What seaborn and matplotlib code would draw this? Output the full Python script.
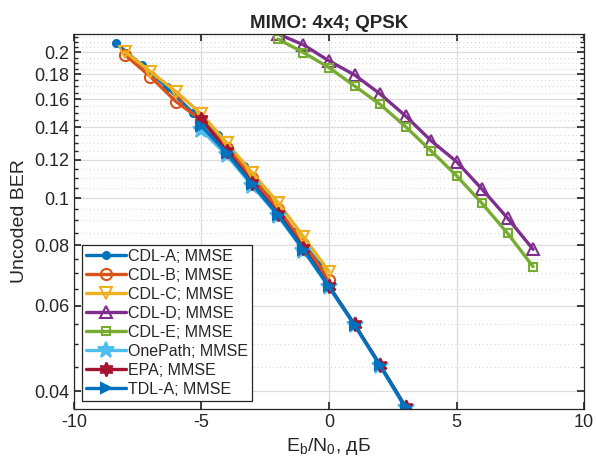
"""
Uncoded BER vs Eb/N0 for a 4x4 QPSK MIMO link, several channel models.
"""
import matplotlib
matplotlib.use('Agg')
import matplotlib.pyplot as plt
from matplotlib.ticker import MultipleLocator, FuncFormatter, NullFormatter
import seaborn as sns
import pandas as pd

# Eb/N0 grids, dB
ebn0_a = [-8.35, -7.35, -6.35, -5.35, -4.35, -3.35, -2.35, -1.35, -0.35]
ebn0_bc = [-8, -7, -6, -5, -4, -3, -2, -1, 0]
ebn0_de = [-2, -1, 0, 1, 2, 3, 4, 5, 6, 7, 8]
ebn0_short = [-5, -4, -3, -2, -1, 0, 1, 2, 3]

# uncoded BER per channel model
ber_cdl_a = [0.2087, 0.1883, 0.1694, 0.1501, 0.1351, 0.1165, 0.1002, 0.0853, 0.0728]
ber_cdl_b = [0.1975, 0.1781, 0.1582, 0.1450, 0.1269, 0.1100, 0.0952, 0.0805, 0.0679]
ber_cdl_c = [0.2006, 0.1824, 0.1659, 0.1490, 0.1299, 0.1126, 0.0980, 0.0833, 0.0706]
ber_cdl_d = [0.2180, 0.2071, 0.1919, 0.1796, 0.1641, 0.1478, 0.1314, 0.1190, 0.1044, 0.0910, 0.0785]
ber_cdl_e = [0.2128, 0.1996, 0.1859, 0.1704, 0.1562, 0.1405, 0.1252, 0.1113, 0.0976, 0.0847, 0.0723]
ber_onepath = [0.1383, 0.1225, 0.1060, 0.0920, 0.0780, 0.0655, 0.0547, 0.0451, 0.0369]
ber_epa = [0.1455, 0.1250, 0.1075, 0.0930, 0.0790, 0.0660, 0.0550, 0.0454, 0.0372]
ber_tdl_a = [0.1410, 0.1238, 0.1068, 0.0925, 0.0784, 0.0658, 0.0549, 0.0453, 0.0371]

labels = ['CDL-A; MMSE', 'CDL-B; MMSE', 'CDL-C; MMSE', 'CDL-D; MMSE', 'CDL-E; MMSE',
          'OnePath; MMSE', 'EPA; MMSE', 'TDL-A; MMSE']

# matlab default colour order
colors = ['#0072BD', '#D95319', '#EDB120', '#7E2F8E', '#77AC30', '#4DBEEE', '#A2142F', '#0072BD']

series = [
    (ebn0_a, ber_cdl_a, 'o', 5, True),
    (ebn0_bc, ber_cdl_b, 'o', 8, False),
    (ebn0_bc, ber_cdl_c, 'v', 9, False),
    (ebn0_de, ber_cdl_d, '^', 9, False),
    (ebn0_de, ber_cdl_e, 's', 6, False),
    (ebn0_short, ber_onepath, '*', 12, True),
    (ebn0_short, ber_epa, (6, 1, 0), 10, True),
    (ebn0_short, ber_tdl_a, '>', 7, True),
]

sns.set_theme(style='ticks')
plt.rcParams['font.family'] = ['Liberation Sans', 'DejaVu Sans']
plt.rcParams['mathtext.fontset'] = 'custom'
plt.rcParams['mathtext.rm'] = 'Liberation Sans'
plt.rcParams['mathtext.it'] = 'Liberation Sans:italic'
plt.rcParams['axes.unicode_minus'] = False

fig = plt.figure(figsize=(5.96, 4.69), dpi=100)
ax = fig.add_axes([0.124, 0.128, 0.856, 0.7995])

for (x, y, mk, ms, filled), lab, col in zip(series, labels, colors):
    df = pd.DataFrame({'ebn0': x, 'ber': y})
    sns.lineplot(data=df, x='ebn0', y='ber', ax=ax, color=col, lw=2.4,
                 marker=mk, markersize=ms, markeredgewidth=1.5,
                 markeredgecolor=col, markerfacecolor=col if filled else 'none',
                 label=lab)

ax.set_yscale('log')
ax.set_xlim(-10, 10)
ax.set_ylim(0.0368, 0.218)
ax.xaxis.set_major_locator(MultipleLocator(5))
ax.yaxis.set_major_locator(MultipleLocator(0.02))
ax.yaxis.set_minor_locator(MultipleLocator(0.005))
ax.yaxis.set_major_formatter(FuncFormatter(lambda v, p: f'{v:g}'))
ax.yaxis.set_minor_formatter(NullFormatter())

ax.grid(True, which='major', color='#dcdcdc', lw=0.9, ls='-')
ax.grid(True, which='minor', axis='y', color='#cfcfcf', lw=0.7, ls=(0, (1, 3)))
ax.set_axisbelow(True)

for s in ax.spines.values():
    s.set_color('#262626')
    s.set_linewidth(0.9)
ax.tick_params(which='both', direction='in', top=True, right=True, colors='#262626',
               labelsize=13)
ax.tick_params(which='major', length=5)
ax.tick_params(which='minor', length=3)

ax.set_title('MIMO: 4x4; QPSK', fontsize=13.5, fontweight='bold', pad=4)
ax.set_xlabel(r'E$_{\rm b}$/N$_{\rm 0}$, дБ', fontsize=14, color='#262626')
ax.set_ylabel('Uncoded BER', fontsize=14, color='#262626')

leg = ax.legend(loc='lower left', fontsize=11.5, frameon=True, fancybox=False,
                framealpha=1, edgecolor='#262626', borderpad=0.25, labelspacing=0.25,
                handlelength=2.5, handletextpad=0.15, borderaxespad=0.5)
leg.get_frame().set_linewidth(0.9)

fig.savefig('out.png', dpi=100)
